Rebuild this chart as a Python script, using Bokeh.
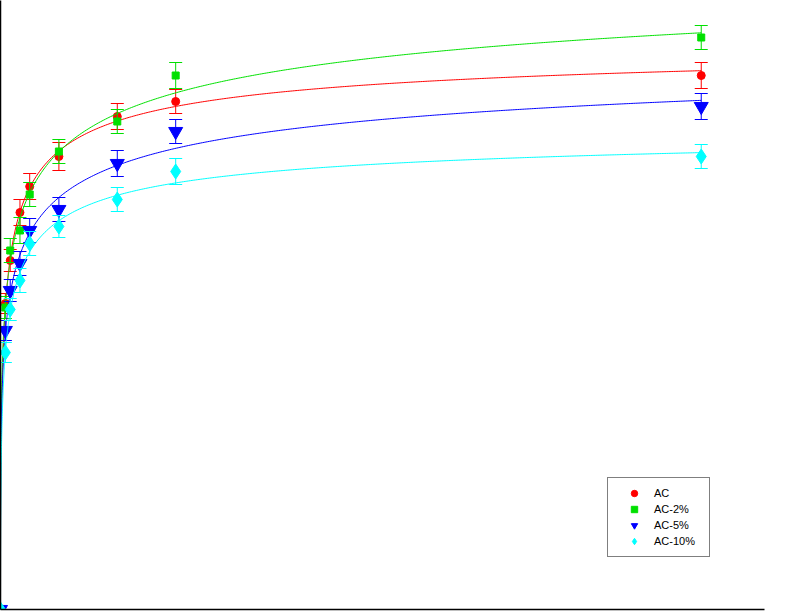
import numpy as np
from bokeh.plotting import figure
from bokeh.models import Range1d, ColumnDataSource, Legend, LegendItem, FixedTicker
from bokeh.embed import file_html
from bokeh.resources import INLINE

# ---- data ----
time = [0, 0.5, 1, 2, 3, 6, 12, 18, 72]
labels = ["AC", "AC-2%", "AC-5%", "AC-10%"]
q_ac = [0, 30.6, 34.9, 39.7, 42.3, 45.3, 49.3, 50.8, 53.4]
q_ac2 = [0, 30.2, 35.9, 37.9, 41.5, 45.8, 48.8, 53.4, 57.2]
q_ac5 = [0, 27.9, 31.9, 34.6, 37.9, 40.0, 44.6, 47.8, 50.3]
q_ac10 = [0, 25.7, 30.0, 32.9, 36.6, 38.3, 41.0, 43.8, 45.3]
err_ac = [0, 1.0, 1.1, 1.3, 1.3, 1.4, 1.3, 1.2, 1.3]
err_ac2 = [0, 1.1, 1.2, 1.3, 1.2, 1.2, 1.2, 1.3, 1.2]
err_ac5 = [0, 1.0, 1.1, 1.2, 1.2, 1.2, 1.3, 1.2, 1.3]
err_ac10 = [0, 1.0, 1.1, 1.2, 1.2, 1.1, 1.2, 1.3, 1.2]

colors = ["#FF0000", "#00E000", "#0000FF", "#00FFFF"]
line_colors = ["#FF0000", "#00E000", "#0000FF", "#00FFFF"]
markers = ["circle", "square", "inverted_triangle", "diamond"]
sizes = [8, 7, 14, 15]

series = [q_ac, q_ac2, q_ac5, q_ac10]
errors = [err_ac, err_ac2, err_ac5, err_ac10]


def fit_hill(t, q):
    """Least-squares fit of q = qm t^n / (K^n + t^n) to the data."""
    t = np.asarray(t, float)
    q = np.asarray(q, float)
    best = None
    for n in np.linspace(0.2, 1.5, 131):
        for K in np.logspace(-2, 1.5, 141):
            f = t ** n / (K ** n + t ** n)
            qm = (f @ q) / (f @ f)
            sse = np.sum((qm * f - q) ** 2)
            if best is None or sse < best[0]:
                best = (sse, qm, K, n)
    return best[1:]


p = figure(width=790, height=613, output_backend="svg", toolbar_location=None,
           x_range=Range1d(0, 78.5), y_range=Range1d(0, 60.9),
           min_border_left=0, min_border_top=0, min_border_bottom=4, min_border_right=26)
p.outline_line_color = None
p.grid.visible = False
for ax in (p.xaxis[0], p.yaxis[0]):
    ax.ticker = FixedTicker(ticks=[])
    ax.axis_line_color = "black"
    ax.axis_line_width = 1.5
    ax.major_tick_line_color = None
    ax.minor_tick_line_color = None
    ax.major_label_standoff = 0
    ax.major_tick_out = 0
    ax.major_tick_in = 0

tt = np.concatenate([np.linspace(0, 1, 200), np.linspace(1, 72, 400)])
items = []
for lab, q, e, c, lc, m, s in zip(labels, series, errors, colors, line_colors, markers, sizes):
    qm, K, n = fit_hill(time, q)
    curve = qm * tt ** n / (K ** n + tt ** n)
    p.line(tt, curve, line_color=lc, line_width=1)
    src = ColumnDataSource(dict(x=time, y=q,
                                lo=[a - b for a, b in zip(q, e)],
                                hi=[a + b for a, b in zip(q, e)]))
    p.segment(x0="x", y0="lo", x1="x", y1="hi", source=src, line_color=c, line_width=1)
    p.scatter("x", "lo", source=src, marker="dash", size=13, line_color=c, line_width=1)
    p.scatter("x", "hi", source=src, marker="dash", size=13, line_color=c, line_width=1)
    r = p.scatter("x", "y", source=src, marker=m, size=s, fill_color=c, line_color=c)
    items.append(LegendItem(label=lab, renderers=[r]))

legend = Legend(items=items, location=(607, 52), orientation="vertical",
                label_text_font="Liberation Sans", label_text_font_size="11px",
                label_text_color="black",
                label_height=16, glyph_height=16, glyph_width=38, label_standoff=1,
                label_width=48, spacing=0, padding=7, margin=0,
                border_line_color="black", border_line_width=1,
                background_fill_color="white", background_fill_alpha=1)
p.add_layout(legend, "center")

open("out.html", "w").write(file_html(p, INLINE))
